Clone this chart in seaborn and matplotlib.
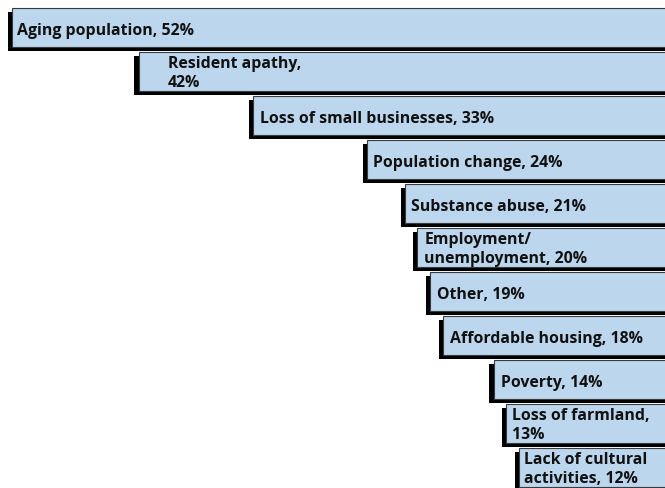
import matplotlib
matplotlib.use("Agg")
import matplotlib.pyplot as plt
import matplotlib.patheffects as pe
import seaborn as sns
import pandas as pd

labels = ["Aging population, 52%", "Resident apathy,\n42%", "Loss of small businesses, 33%",
          "Population change, 24%", "Substance abuse, 21%", "Employment/\nunemployment, 20%",
          "Other, 19%", "Affordable housing, 18%", "Poverty, 14%", "Loss of farmland,\n13%",
          "Lack of cultural\nactivities, 12%"]
categories = ["Aging population", "Resident apathy", "Loss of small businesses",
              "Population change", "Substance abuse", "Employment/unemployment",
              "Other", "Affordable housing", "Poverty", "Loss of farmland",
              "Lack of cultural activities"]
values = [52, 42, 33, 24, 21, 20, 19, 18, 14, 13, 12]

df = pd.DataFrame({"category": categories, "value": values})

sns.set_theme(style="white")
plt.rcParams['font.family'] = ['Open Sans', 'DejaVu Sans']

fig = plt.figure(figsize=(6.65, 4.88), dpi=100)
ax = fig.add_axes([0, 0, 1, 1])
sns.barplot(data=df, x="value", y="category", orient="h", color="#BCD6ED",
            saturation=1, width=0.886, edgecolor="#3a3a3a", linewidth=0.8, ax=ax)

for p in ax.patches:
    p.set_path_effects([pe.SimplePatchShadow(offset=(-3, -3), shadow_rgbFace="black", alpha=1.0),
                        pe.Normal()])

px_per_unit = 12.675
px_per_row = 44.0
text_offsets_px = [5, 29, 7, 6, 6, 7, 7, 7, 7, 6, 5]
for i, (lab, v) in enumerate(zip(labels, values)):
    dy = (2.0 if "\n" in lab else 4.0) / px_per_row
    ax.text(v - text_offsets_px[i] / px_per_unit, i + dy, lab, ha="left", va="center",
            fontsize=11.4, fontweight="bold", color="#111111", linespacing=1.32)

ax.set_xlim(52.94, 0.47)
ax.set_ylim(10.466, -0.625)
ax.axis("off")
fig.savefig("out.png", dpi=100)
